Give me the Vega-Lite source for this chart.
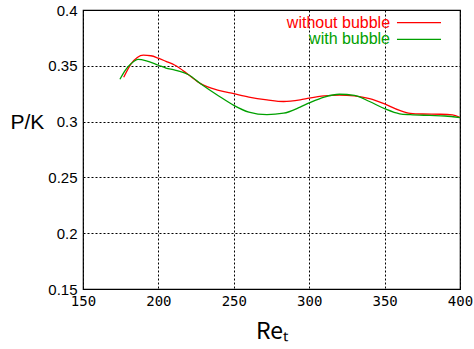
{
  "$schema": "https://vega.github.io/schema/vega-lite/v6.json",
  "width": 377,
  "height": 279,
  "autosize": {"type": "none"},
  "padding": {"left": 83, "top": 10, "right": 14, "bottom": 60},
  "background": "white",
  "config": {
    "view": {"stroke": "black", "strokeWidth": 1.2},
    "font": "Liberation Sans"
  },
  "layer": [
    {
      "data": {
        "values": [
          {"series": "without bubble", "Re": 177, "PK": 0.3397},
          {"series": "without bubble", "Re": 182, "PK": 0.352},
          {"series": "without bubble", "Re": 186, "PK": 0.3575},
          {"series": "without bubble", "Re": 190, "PK": 0.3595},
          {"series": "without bubble", "Re": 195, "PK": 0.359},
          {"series": "without bubble", "Re": 200, "PK": 0.3568},
          {"series": "without bubble", "Re": 205, "PK": 0.354},
          {"series": "without bubble", "Re": 211, "PK": 0.3505},
          {"series": "without bubble", "Re": 220, "PK": 0.342},
          {"series": "without bubble", "Re": 228, "PK": 0.334},
          {"series": "without bubble", "Re": 240, "PK": 0.328},
          {"series": "without bubble", "Re": 250, "PK": 0.325},
          {"series": "without bubble", "Re": 260, "PK": 0.322},
          {"series": "without bubble", "Re": 272, "PK": 0.3195},
          {"series": "without bubble", "Re": 283, "PK": 0.318},
          {"series": "without bubble", "Re": 294, "PK": 0.3195},
          {"series": "without bubble", "Re": 300, "PK": 0.321},
          {"series": "without bubble", "Re": 310, "PK": 0.323},
          {"series": "without bubble", "Re": 320, "PK": 0.3238},
          {"series": "without bubble", "Re": 330, "PK": 0.323},
          {"series": "without bubble", "Re": 340, "PK": 0.3205},
          {"series": "without bubble", "Re": 350, "PK": 0.3158},
          {"series": "without bubble", "Re": 360, "PK": 0.31},
          {"series": "without bubble", "Re": 367, "PK": 0.3074},
          {"series": "without bubble", "Re": 375, "PK": 0.3068},
          {"series": "without bubble", "Re": 387, "PK": 0.3066},
          {"series": "without bubble", "Re": 395, "PK": 0.306},
          {"series": "without bubble", "Re": 400, "PK": 0.3038},
          {"series": "with bubble", "Re": 174.5, "PK": 0.338},
          {"series": "with bubble", "Re": 178, "PK": 0.346},
          {"series": "with bubble", "Re": 182, "PK": 0.352},
          {"series": "with bubble", "Re": 186.5, "PK": 0.3557},
          {"series": "with bubble", "Re": 192, "PK": 0.3545},
          {"series": "with bubble", "Re": 200, "PK": 0.3505},
          {"series": "with bubble", "Re": 205, "PK": 0.348},
          {"series": "with bubble", "Re": 211, "PK": 0.3462},
          {"series": "with bubble", "Re": 220, "PK": 0.342},
          {"series": "with bubble", "Re": 228, "PK": 0.334},
          {"series": "with bubble", "Re": 240, "PK": 0.323},
          {"series": "with bubble", "Re": 250, "PK": 0.3146},
          {"series": "with bubble", "Re": 260, "PK": 0.3085},
          {"series": "with bubble", "Re": 272, "PK": 0.3062},
          {"series": "with bubble", "Re": 283, "PK": 0.3075},
          {"series": "with bubble", "Re": 294, "PK": 0.313},
          {"series": "with bubble", "Re": 300, "PK": 0.3167},
          {"series": "with bubble", "Re": 310, "PK": 0.322},
          {"series": "with bubble", "Re": 320, "PK": 0.3245},
          {"series": "with bubble", "Re": 330, "PK": 0.3235},
          {"series": "with bubble", "Re": 340, "PK": 0.318},
          {"series": "with bubble", "Re": 350, "PK": 0.3116},
          {"series": "with bubble", "Re": 360, "PK": 0.307},
          {"series": "with bubble", "Re": 367, "PK": 0.3062},
          {"series": "with bubble", "Re": 380, "PK": 0.3055},
          {"series": "with bubble", "Re": 390, "PK": 0.305},
          {"series": "with bubble", "Re": 400, "PK": 0.3035}
        ]
      },
      "mark": {"type": "line", "interpolate": "monotone", "strokeWidth": 1.3, "clip": true},
      "encoding": {
        "x": {
          "field": "Re", "type": "quantitative",
          "scale": {"domain": [150, 400], "nice": false, "zero": false},
          "axis": {
            "values": [150, 200, 250, 300, 350, 400],
            "title": "Reₜ",
            "titleFont": "Noto Sans CJK JP",
            "titleFontSize": 23,
            "titleFontWeight": "normal",
            "titlePadding": 12,
            "labelFont": "DejaVu Sans Mono",
            "labelFontSize": 14,
            "labelColor": "black",
            "labelPadding": 5,
            "labelFlush": false,
            "ticks": false,
            "domain": false,
            "grid": true,
            "gridColor": "black",
            "gridDash": [2, 2],
            "gridOpacity": 1,
            "gridWidth": 1
          }
        },
        "y": {
          "field": "PK", "type": "quantitative",
          "scale": {"domain": [0.15, 0.4], "nice": false, "zero": false},
          "axis": {
            "values": [0.15, 0.2, 0.25, 0.3, 0.35, 0.4],
            "format": ".2~f",
            "title": "P/K",
            "titleAngle": 0,
            "titleAlign": "left",
            "titleBaseline": "middle",
            "titleX": -73,
            "titleY": 112,
            "titleFontSize": 21,
            "titleFontWeight": "normal",
            "labelFontSize": 15,
            "labelColor": "black",
            "labelPadding": 6,
            "labelFlush": false,
            "ticks": false,
            "domain": false,
            "grid": true,
            "gridColor": "black",
            "gridDash": [2, 2],
            "gridOpacity": 1,
            "gridWidth": 1
          }
        },
        "color": {
          "field": "series", "type": "nominal",
          "scale": {"domain": ["without bubble", "with bubble"], "range": ["#ff0000", "#00a000"]},
          "legend": null
        }
      }
    },
    {
      "data": {"values": [{"label": "without bubble"}]},
      "mark": {"type": "text", "align": "right", "baseline": "middle", "fontSize": 16, "fontWeight": "normal", "fill": "#ff0000", "text": "without bubble"},
      "encoding": {"x": {"datum": 353.6}, "y": {"datum": 0.3886}}
    },
    {
      "data": {"values": [{"label": "with bubble"}]},
      "mark": {"type": "text", "align": "right", "baseline": "middle", "fontSize": 16, "fontWeight": "normal", "fill": "#00a000", "text": "with bubble"},
      "encoding": {"x": {"datum": 353.6}, "y": {"datum": 0.3736}}
    },
    {
      "data": {"values": [{"label": "without bubble"}]},
      "mark": {"type": "rule", "color": "#ff0000", "strokeWidth": 1.3},
      "encoding": {"x": {"datum": 358.2}, "x2": {"datum": 387.4}, "y": {"datum": 0.3886}}
    },
    {
      "data": {"values": [{"label": "with bubble"}]},
      "mark": {"type": "rule", "color": "#00a000", "strokeWidth": 1.3},
      "encoding": {"x": {"datum": 358.2}, "x2": {"datum": 387.4}, "y": {"datum": 0.3736}}
    }
  ]
}
